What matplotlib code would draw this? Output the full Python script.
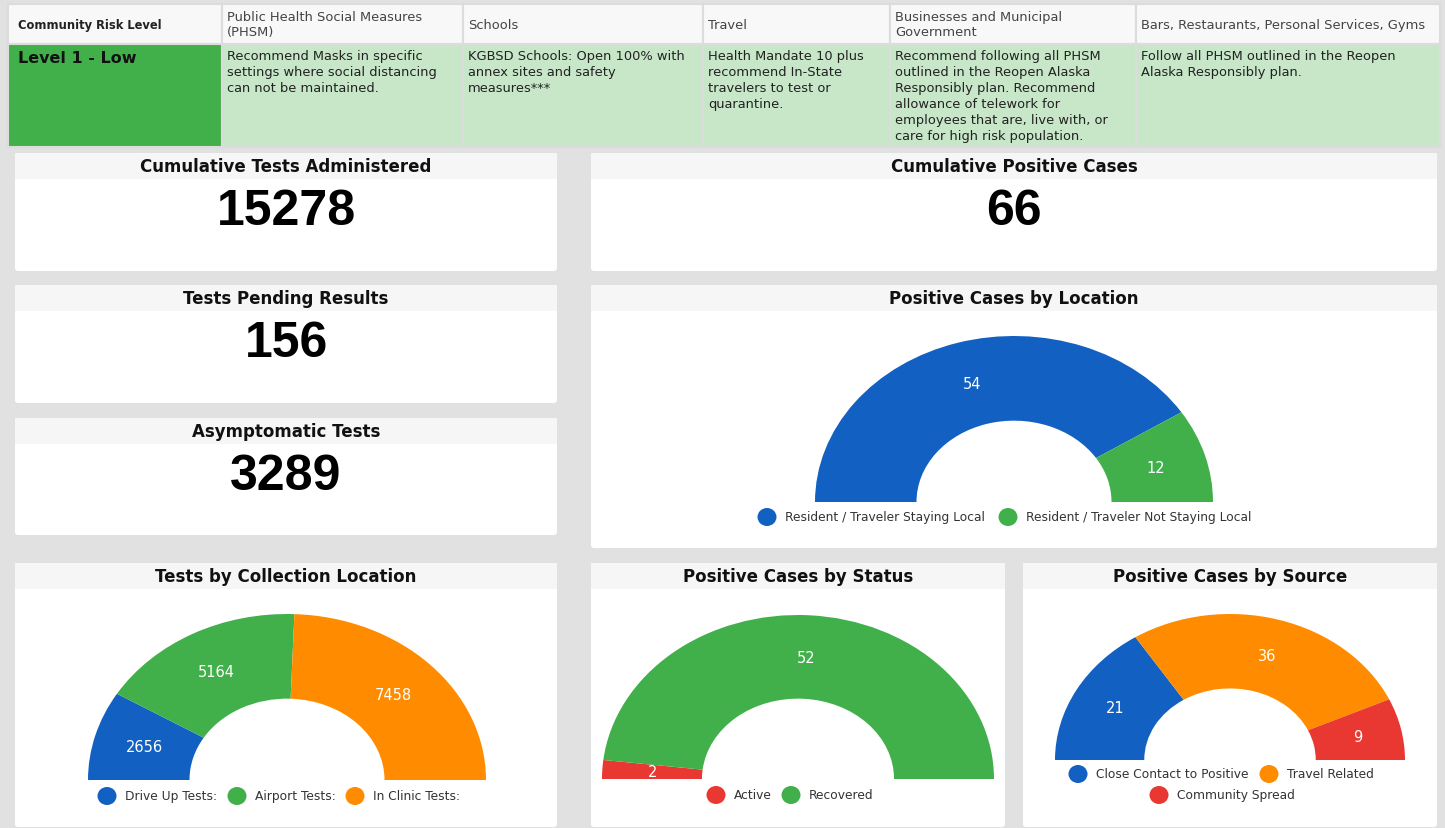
"""
KGBSD COVID dashboard: risk level table, counters and half donut gauges.
"""
import math
import matplotlib
matplotlib.use('Agg')
import matplotlib.pyplot as plt
from matplotlib.patches import Rectangle, FancyBboxPatch, Ellipse

W, H = 1445, 829

# Data.
table_headers = ['Community Risk Level', 'Public Health Social Measures\n(PHSM)', 'Schools', 'Travel',
                 'Businesses and Municipal\nGovernment', 'Bars, Restaurants, Personal Services, Gyms']
table_row = ['Level 1 - Low',
             'Recommend Masks in specific\nsettings where social distancing\ncan not be maintained.',
             'KGBSD Schools: Open 100% with\nannex sites and safety\nmeasures***',
             'Health Mandate 10 plus\nrecommend In-State\ntravelers to test or\nquarantine.',
             'Recommend following all PHSM\noutlined in the Reopen Alaska\nResponsibly plan. Recommend\n'
             'allowance of telework for\nemployees that are, live with, or\ncare for high risk population.',
             'Follow all PHSM outlined in the Reopen\nAlaska Responsibly plan.']

counter_titles = ['Cumulative Tests Administered', 'Cumulative Positive Cases',
                  'Tests Pending Results', 'Asymptomatic Tests']
counter_values = [15278, 66, 156, 3289]

location_labels = ['Resident / Traveler Staying Local', 'Resident / Traveler Not Staying Local']
location_values = [54, 12]
collection_labels = ['Drive Up Tests:', 'Airport Tests:', 'In Clinic Tests:']
collection_values = [2656, 5164, 7458]
status_labels = ['Active', 'Recovered']
status_values = [2, 52]
source_labels = ['Close Contact to Positive', 'Travel Related', 'Community Spread']
source_values = [21, 36, 9]

BLUE, GREEN, ORANGE, RED = '#1160c2', '#41b04b', '#ff8c00', '#e93731'
FONT = 'DejaVu Sans'
NUM_FONT = 'Liberation Sans'

fig = plt.figure(figsize=(W / 100, H / 100), dpi=100)
fig.patch.set_facecolor('#e1e1e1')
ax = fig.add_axes([0, 0, 1, 1])
ax.set_xlim(0, W)
ax.set_ylim(H, 0)
ax.axis('off')

# Risk level table.
col_x = [8, 222, 463, 703, 890, 1136, 1440]
head_y, body_y, end_y = 5, 45, 148
for i in range(len(table_headers)):
    x0, x1 = col_x[i], col_x[i + 1]
    ax.add_patch(Rectangle((x0, head_y), x1 - x0, body_y - head_y, fc='#f8f8f8', ec='#dcdcdc', lw=1.5))
    body_fc = GREEN if i == 0 else '#c8e7c9'
    ax.add_patch(Rectangle((x0, body_y), x1 - x0, end_y - body_y, fc=body_fc, ec='#dcdcdc', lw=1.5))
    if i == 0:
        ax.text(x0 + 10, 25, table_headers[i], fontsize=8.3, fontweight='bold', color='#222',
                family=FONT, va='center')
        ax.text(x0 + 10, 51, table_row[i], fontsize=11.5, fontweight='bold', color='#111',
                family=FONT, va='top')
    else:
        ax.text(x0 + 5, 25, table_headers[i], fontsize=9.4, color='#444', family=FONT,
                va='center', linespacing=1.2)
        ax.text(x0 + 5, 50, table_row[i], fontsize=9.4, color='#222', family=FONT,
                va='top', linespacing=1.3)


def card(x0, y0, x1, y1, title):
    ax.add_patch(FancyBboxPatch((x0, y0), x1 - x0, y1 - y0, boxstyle='round,pad=0,rounding_size=3',
                                fc='white', ec='none'))
    ax.add_patch(Rectangle((x0, y0), x1 - x0, 26, fc='#f6f6f6', ec='none'))
    ax.text((x0 + x1) / 2, y0 + 13, title, fontsize=12, fontweight='bold', color='#111',
            family=FONT, ha='center', va='center')


# Counter cards.
counter_boxes = [(15, 154, 557, 272), (591, 154, 1437, 272), (15, 286, 557, 404), (15, 419, 557, 536)]
for (x0, y0, x1, y1), title, val in zip(counter_boxes, counter_titles, counter_values):
    card(x0, y0, x1, y1, title)
    ax.text((x0 + x1) / 2, y0 + 58, f'{val}', fontsize=36, fontweight='bold', color='#000',
            family=NUM_FONT, ha='center', va='center')


def gauge(cx, base, rx, ry, values, colors):
    gax = fig.add_axes([(cx - rx) / W, (H - base) / H, 2 * rx / W, ry / H])
    wedges, _ = gax.pie(values + [sum(values)], colors=colors + ['none'], startangle=180,
                        counterclock=False, radius=1, wedgeprops=dict(width=0.51, linewidth=0))
    gax.set_aspect('auto')
    gax.set_xlim(-1, 1)
    gax.set_ylim(0, 1)
    gax.axis('off')
    for w in wedges:
        w.set_clip_on(False)
    for w, v in zip(wedges[:-1], values):
        a = math.radians((w.theta1 + w.theta2) / 2)
        gax.text(0.745 * math.cos(a), 0.745 * math.sin(a), str(v), color='white', fontsize=10.5,
                 family=FONT, ha='center', va='center')


def legend(items, y):
    for x, label, color in items:
        ax.add_patch(Ellipse((x, y), 19, 18, fc=color, ec='none'))
        ax.text(x + 18, y, label, fontsize=8.8, color='#333', family=FONT, va='center')


# Chart cards.
card(591, 286, 1437, 549, 'Positive Cases by Location')
gauge(1014, 503, 199, 166, location_values, [BLUE, GREEN])
legend([(767, location_labels[0], BLUE), (1008, location_labels[1], GREEN)], 518)

card(15, 564, 557, 828, 'Tests by Collection Location')
gauge(287, 781, 199, 166, collection_values, [BLUE, GREEN, ORANGE])
legend([(107, collection_labels[0], BLUE), (237, collection_labels[1], GREEN),
        (355, collection_labels[2], ORANGE)], 797)

card(591, 564, 1005, 828, 'Positive Cases by Status')
gauge(798, 780, 196, 164, status_values, [RED, GREEN])
legend([(716, status_labels[0], RED), (791, status_labels[1], GREEN)], 796)

card(1023, 564, 1437, 828, 'Positive Cases by Source')
gauge(1230, 761, 175, 146, source_values, [BLUE, ORANGE, RED])
legend([(1078, source_labels[0], BLUE), (1269, source_labels[1], ORANGE)], 775)
legend([(1159, source_labels[2], RED)], 796)

fig.savefig('out.png', dpi=100, facecolor=fig.get_facecolor())
